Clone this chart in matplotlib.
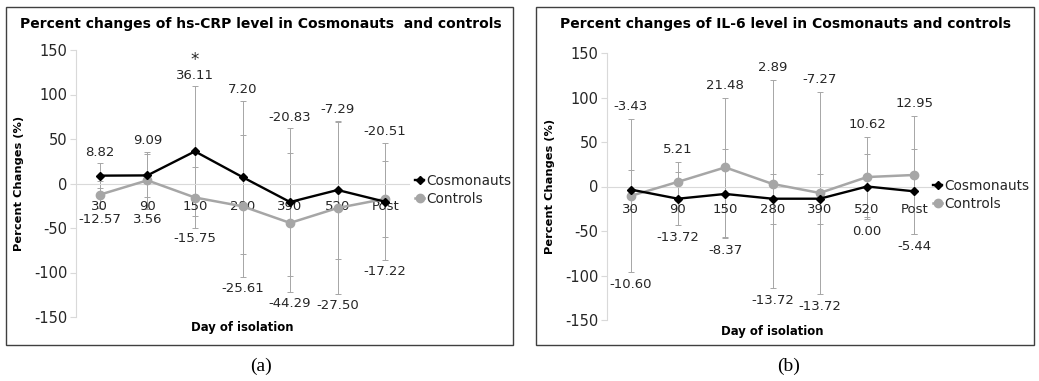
import numpy as np
import matplotlib
matplotlib.use("Agg")
import matplotlib.pyplot as plt
from matplotlib.patches import Rectangle

plt.rcParams['font.family'] = ['DejaVu Sans']
plt.rcParams['axes.unicode_minus'] = False

days = ["30", "90", "150", "280", "390", "520", "Post"]

# (a) hs-CRP
crp_cosmo = [8.82, 9.09, 36.11, 7.20, -20.83, -7.29, -20.51]
crp_cosmo_err = [14, 24, 73, 86, 83, 78, 66]
crp_ctrl = [-12.57, 3.56, -15.75, -25.61, -44.29, -27.50, -17.22]
crp_ctrl_err = [15, 32, 34, 80, 78, 97, 43]
crp_top_labels = ["8.82", "9.09", "36.11", "7.20", "-20.83", "-7.29", "-20.51"]
crp_bottom_labels = ["-12.57", "3.56", "-15.75", "-25.61", "-44.29", "-27.50", "-17.22"]

# (b) IL-6
il6_cosmo = [-3.43, -13.72, -8.37, -13.72, -13.72, 0.00, -5.44]
il6_cosmo_err = [21.5, 30, 50, 28, 28, 36, 48]
il6_ctrl = [-10.60, 5.21, 21.48, 2.89, -7.27, 10.62, 12.95]
il6_ctrl_err = [86, 22, 78, 117, 113, 45, 66]
il6_top_labels = ["-3.43", "5.21", "21.48", "2.89", "-7.27", "10.62", "12.95"]
il6_bottom_labels = ["-10.60", "-13.72", "-8.37", "-13.72", "-13.72", "0.00", "-5.44"]

W, H = 1039, 381
GRAY = '#a6a6a6'
LIGHT = '#d9d9d9'
TXT = '#262626'
FS = 9.5


def px(x0, y0, x1, y1):
    """pixel box (top-left origin) -> figure fraction rect"""
    return [x0 / W, (H - y1) / H, (x1 - x0) / W, (y1 - y0) / H]


def panel(fig, rect, title, cosmo, cosmo_err, ctrl, ctrl_err,
          top_labels, bottom_labels, frame, title_xy, ylab_x, xlab_y,
          legend_xy, label_off, star=None):
    ax = fig.add_axes(px(*rect))
    x = np.arange(len(days))
    cosmo = np.array(cosmo)
    ctrl = np.array(ctrl)
    cosmo_err = np.array(cosmo_err)
    ctrl_err = np.array(ctrl_err)

    ax.errorbar(x, cosmo, yerr=cosmo_err, fmt='none', ecolor=GRAY,
                elinewidth=0.7, capsize=2, capthick=0.7, zorder=1)
    ax.errorbar(x, ctrl, yerr=ctrl_err, fmt='none', ecolor=GRAY,
                elinewidth=0.7, capsize=2, capthick=0.7, zorder=1)
    ax.plot(x, cosmo, color='black', lw=1.7, marker='D', ms=4.5,
            label='Cosmonauts', zorder=4)
    ax.plot(x, ctrl, color=GRAY, lw=1.8, marker='o', ms=6,
            label='Controls', zorder=3)

    # data labels sit just beyond the outermost error bar ends
    hi = np.maximum(cosmo + cosmo_err, ctrl + ctrl_err)
    lo = np.minimum(cosmo - cosmo_err, ctrl - ctrl_err)
    for i in range(len(days)):
        ax.annotate(top_labels[i], (x[i], hi[i]), xytext=(0, label_off),
                    textcoords='offset points', ha='center', va='center',
                    fontsize=FS, color=TXT)
        ax.annotate(bottom_labels[i], (x[i], lo[i]), xytext=(0, -label_off),
                    textcoords='offset points', ha='center', va='center',
                    fontsize=FS, color=TXT)
    if star is not None:
        ax.annotate('*', (x[star], hi[star]), xytext=(0, label_off + 11),
                    textcoords='offset points', ha='center', va='center',
                    fontsize=12, color=TXT)

    ax.set_xlim(-0.5, len(days) - 0.5)
    ax.set_ylim(-150, 150)
    ax.set_yticks([-150, -100, -50, 0, 50, 100, 150])
    ax.set_xticks(x)
    ax.set_xticklabels(days)
    ax.spines['bottom'].set_position(('data', 0))
    ax.spines['bottom'].set_color(LIGHT)
    ax.spines['left'].set_color(LIGHT)
    ax.spines['top'].set_visible(False)
    ax.spines['right'].set_visible(False)
    ax.tick_params(axis='x', length=0, pad=12, labelsize=FS, labelcolor=TXT)
    ax.tick_params(axis='y', length=4, color=LIGHT, direction='out',
                   pad=2, labelsize=10.5, labelcolor=TXT)
    ax.set_facecolor('none')

    fig.text(title_xy[0] / W, 1 - title_xy[1] / H, title, ha='center',
             va='center', fontsize=10.0, fontweight='bold', color='black')
    fig.text(ylab_x / W, 1 - (rect[1] + rect[3]) / 2 / H, 'Percent Changes (%)',
             rotation=90, ha='center', va='center', fontsize=8.2,
             fontweight='bold', color='black')
    fig.text((rect[0] + rect[2]) / 2 / W, 1 - xlab_y / H, 'Day of isolation',
             ha='center', va='center', fontsize=8.4, fontweight='bold',
             color='black')
    ax.legend(loc='center left', bbox_to_anchor=(legend_xy[0] / W, 1 - legend_xy[1] / H),
              bbox_transform=fig.transFigure, frameon=False, handlelength=0.7,
              handletextpad=0.15, labelspacing=0.3, borderpad=0,
              fontsize=9.8, labelcolor=TXT)

    fx0, fy0, fx1, fy1 = frame
    fig.patches.append(Rectangle((fx0 / W, 1 - fy1 / H), (fx1 - fx0) / W,
                                 (fy1 - fy0) / H, transform=fig.transFigure,
                                 fill=False, edgecolor='#404040', lw=1.0))
    return ax


fig = plt.figure(figsize=(W / 100, H / 100), dpi=100)

panel(fig, (76, 50, 409, 317),
      'Percent changes of hs-CRP level in Cosmonauts  and controls',
      crp_cosmo, crp_cosmo_err, crp_ctrl, crp_ctrl_err,
      crp_top_labels, crp_bottom_labels,
      frame=(6, 7, 513, 345), title_xy=(261, 24), ylab_x=19, xlab_y=328,
      legend_xy=(408, 190), label_off=8, star=2)

panel(fig, (607, 53, 938, 320),
      'Percent changes of IL-6 level in Cosmonauts and controls',
      il6_cosmo, il6_cosmo_err, il6_ctrl, il6_ctrl_err,
      il6_top_labels, il6_bottom_labels,
      frame=(536, 7, 1034, 345), title_xy=(786, 24), ylab_x=550, xlab_y=332,
      legend_xy=(926, 195), label_off=9)

fig.text(261 / W, 1 - 366 / H, '(a)', ha='center', va='center', fontsize=14,
         family='Liberation Serif')
fig.text(789 / W, 1 - 366 / H, '(b)', ha='center', va='center', fontsize=14,
         family='Liberation Serif')

fig.savefig('out.png', dpi=100)
